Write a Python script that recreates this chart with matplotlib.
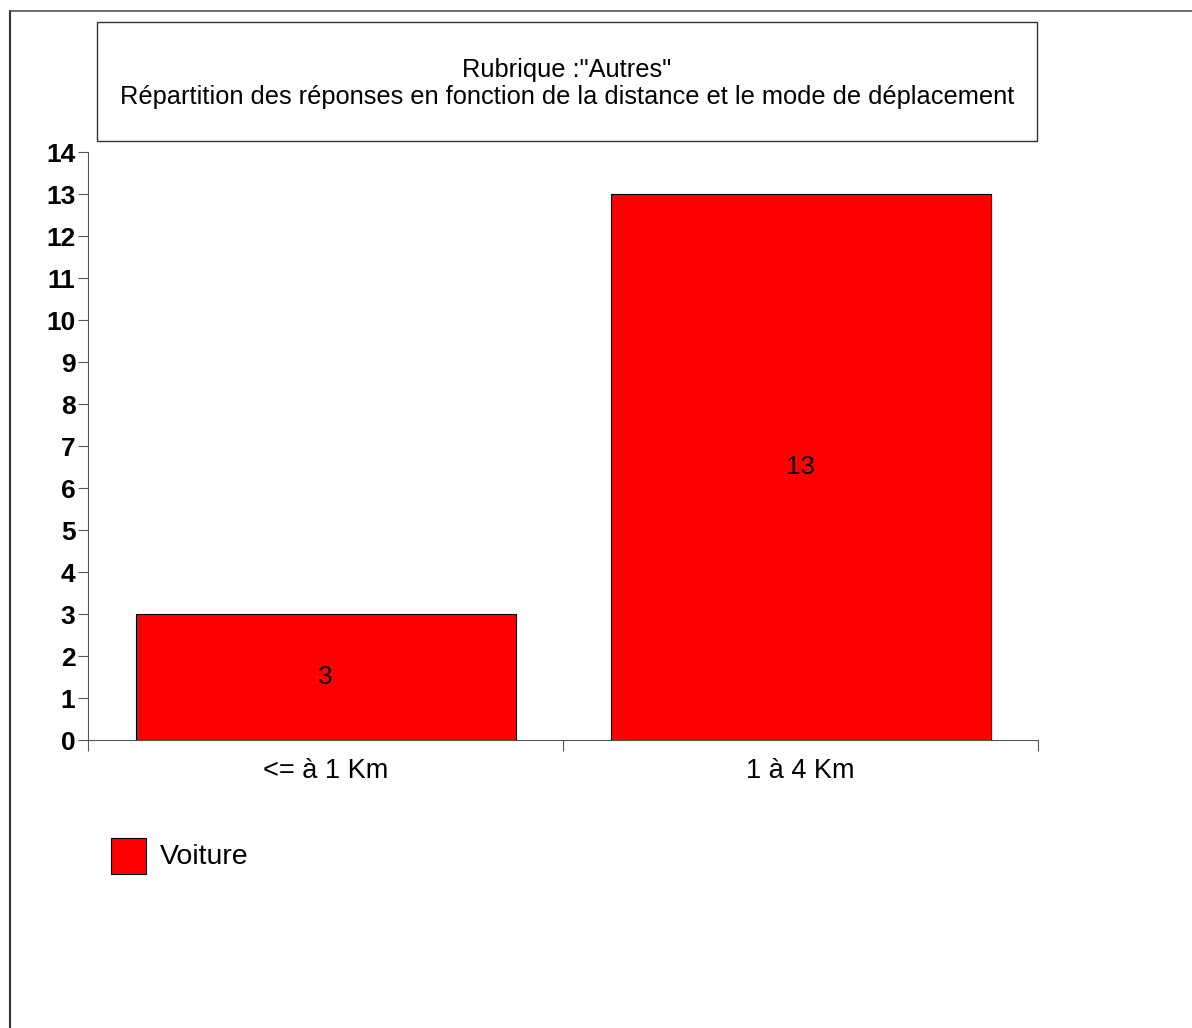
import matplotlib
matplotlib.use('Agg')

import matplotlib.pyplot as plt
from matplotlib.patches import Rectangle

# data
categories = ["<= à 1 Km", "1 à 4 Km"]
voiture = [3, 13]
yticks = list(range(0, 15))
title_lines = ['Rubrique :"Autres"',
               "Répartition des réponses en fonction de la distance et le mode de déplacement"]

plt.rcParams['font.family'] = ['Liberation Sans', 'DejaVu Sans']

W, H = 1192, 1028
fig = plt.figure(figsize=(W / 100, H / 100), dpi=100)

def fx(px):
    return px / W

def fy(py):
    return 1 - py / H

# outer frame (only left and top edges visible)
fig.add_artist(plt.Line2D([fx(9.5), fx(9.5)], [fy(11), 0], color="#333333", lw=1.5))
fig.add_artist(plt.Line2D([fx(9.5), 1], [fy(11), fy(11)], color="#555555", lw=1.2))

# title box
fig.add_artist(Rectangle((fx(97), fy(141)), fx(1037) - fx(97), fy(22) - fy(141),
                         transform=fig.transFigure, fill=False, edgecolor="#333333", lw=1.0))
fig.text(fx(567), fy(70), title_lines[0], ha="center", va="center", fontsize=18.3)
fig.text(fx(567), fy(97), title_lines[1], ha="center", va="center", fontsize=18.3)

ax = fig.add_axes([fx(88), fy(740), fx(1038) - fx(88), fy(152) - fy(740)])
x = list(range(len(categories)))
bars = ax.bar(x, voiture, width=0.8, color="#ff0000", edgecolor="#000000", linewidth=0.8,
              label="Voiture", zorder=2)
for xi, v in zip(x, voiture):
    ax.text(xi, v / 2, str(v), ha="center", va="center", fontsize=18.5)

ax.set_xlim(-0.5, len(categories) - 0.5)
ax.set_ylim(0, 14)
ax.set_yticks(yticks)
ax.set_yticklabels([str(t) for t in yticks], fontsize=19, fontweight="bold")
ax.tick_params(axis="y", direction="out", length=7.5, width=0.8, color="#555555", pad=1.5)

ax.set_xticks([i - 0.5 for i in range(len(categories) + 1)])
ax.set_xticklabels([])
ax.set_xticks(x, minor=True)
ax.set_xticklabels(categories, minor=True, fontsize=19.5)
ax.tick_params(axis="x", which="major", direction="out", length=8, width=0.8, color="#555555")
ax.tick_params(axis="x", which="minor", length=0, pad=13)

for s in ["top", "right"]:
    ax.spines[s].set_visible(False)
for s in ["left", "bottom"]:
    ax.spines[s].set_color("#555555")
    ax.spines[s].set_linewidth(0.8)

# legend
fig.add_artist(Rectangle((fx(111), fy(874)), fx(146) - fx(111), fy(838) - fy(874),
                         transform=fig.transFigure, facecolor="#ff0000", edgecolor="#000000", lw=0.8))
fig.text(fx(160), fy(857), "Voiture", ha="left", va="center", fontsize=20.5)

fig.savefig("out.png", dpi=100)
